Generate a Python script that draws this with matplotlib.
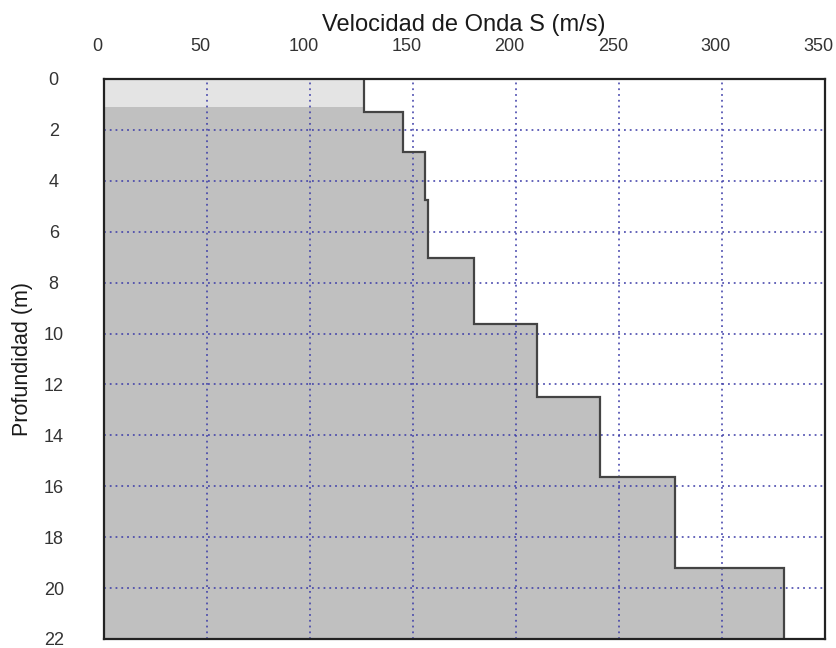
import numpy as np
import matplotlib
matplotlib.use("Agg")
import matplotlib.pyplot as plt
from matplotlib.transforms import ScaledTranslation

plt.rcParams['font.family'] = ['Liberation Sans', 'DejaVu Sans']

# Shear-wave velocity profile (m/s) per layer, with layer boundaries (m)
vs_layers = [126.4, 145.4, 156.2, 157.2, 179.8, 210.5, 240.9, 277.3, 330.2]
layer_bounds = [0.0, 1.3, 2.86, 4.75, 7.03, 9.63, 12.48, 15.65, 19.23, 22.0]
surface_depth = 1.1  # lighter surface band

x_ticks = [0, 50, 100, 150, 200, 250, 300, 350]
y_ticks = [0, 2, 4, 6, 8, 10, 12, 14, 16, 18, 20, 22]

fig = plt.figure(figsize=(8.37, 6.48), dpi=100)
ax = fig.add_axes([0.1239, 0.0139, 0.8614, 0.8642])

# step profile coordinates
ys = np.repeat(layer_bounds, 2)[1:-1]
xs = np.repeat(vs_layers, 2)

# dark fill below the surface band
mask_y = np.clip(ys, surface_depth, None)
ax.fill_betweenx(mask_y, 0, xs, color='#c0c0c0', lw=0, zorder=1)
# light surface band
ax.fill_betweenx([0, surface_depth], 0, vs_layers[0], color='#e4e4e4', lw=0, zorder=1)

# grid
grid_kw = dict(color='#3b3ba8', lw=1.3, linestyle=(0, (1, 2.2)), zorder=2, alpha=0.85)
for xv in x_ticks[1:-1]:
    ax.axvline(xv, **grid_kw)
for yv in y_ticks[1:-1]:
    ax.axhline(yv, **grid_kw)

# profile outline
ax.plot(xs, ys, color='#444444', lw=1.6, zorder=3, solid_joinstyle='miter')

ax.set_xlim(0, 350)
ax.set_ylim(22, 0)
ax.xaxis.tick_top()
ax.xaxis.set_label_position('top')
ax.set_xticks(x_ticks)
ax.set_yticks(y_ticks)
ax.tick_params(axis='x', length=0, pad=17, labelsize=13, labelcolor='#333333')
ax.tick_params(axis='y', length=0, pad=36, labelsize=13, labelcolor='#333333')
for lbl in ax.get_yticklabels():
    lbl.set_horizontalalignment('center')
# nudge the top labels slightly left
shift = ScaledTranslation(-6 / 100, 0, fig.dpi_scale_trans)
for lbl in ax.get_xticklabels():
    lbl.set_transform(lbl.get_transform() + shift)

ax.set_xlabel('Velocidad de Onda S (m/s)', fontsize=17, labelpad=5, color='#1a1a1a')
ax.set_ylabel('Profundidad (m)', fontsize=15.5, labelpad=8, color='#1a1a1a')

for s in ax.spines.values():
    s.set_linewidth(1.6)
    s.set_color('#222222')
    s.set_zorder(4)

fig.savefig('out.png', dpi=100)
